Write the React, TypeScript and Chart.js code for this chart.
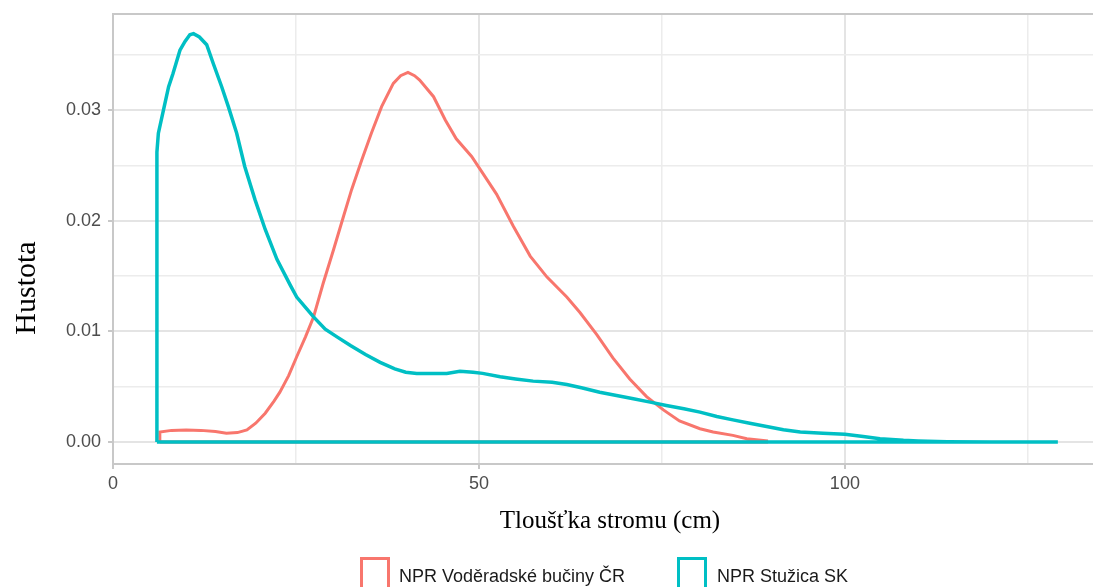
import React, { useEffect, useRef } from "react";
import { Chart, registerables } from "chart.js";

Chart.register(...registerables);

// ---- data ----
const seriesNames = ["NPR Voděradské bučiny ČR", "NPR Stužica SK"];
const seriesColors = ["#F8766D", "#00BFC4"];

const redX = [6.4, 6.4, 8, 10, 12, 14, 15.5, 17, 18.3, 19.5, 20.8, 22, 22.8, 24, 25.1, 26.3, 27.4, 28.7, 30.1, 31.5, 32.6, 34.0, 35.3, 36.7, 38.3, 39.3, 40.3, 41.2, 41.9, 43.8, 45.4, 46.9, 49.0, 50.6, 52.4, 54.7, 57.0, 59.3, 62.0, 63.8, 66.1, 68.3, 70.6, 72.9, 75.2, 77.4, 80.2, 82.0, 84.7, 86.6, 89.3, 89.3, 6.4];
const redY = [0, 0.0009, 0.00105, 0.00108, 0.00105, 0.00095, 0.0008, 0.00085, 0.0011, 0.0017, 0.0026, 0.0037, 0.0045, 0.006, 0.0077, 0.0095, 0.0113, 0.0143, 0.0173, 0.0204, 0.0228, 0.0255, 0.0279, 0.0303, 0.0324, 0.0331, 0.0334, 0.0331, 0.0327, 0.0312, 0.0291, 0.0274, 0.0258, 0.0242, 0.0224, 0.0195, 0.0168, 0.0149, 0.0131, 0.0117, 0.0097, 0.0076, 0.0057, 0.0041, 0.0029, 0.0019, 0.0012, 0.0009, 0.0006, 0.0003, 0.0001, 0, 0];

const tealX = [6, 6, 6.2, 6.9, 7.6, 8.2, 9.15, 9.84, 10.5, 11.0, 11.8, 12.8, 13.7, 14.85, 15.76, 16.9, 18.0, 19.4, 20.8, 22.4, 24.2, 25.1, 26.5, 27.4, 29.0, 30.6, 32.5, 34.5, 36.5, 38.5, 40.0, 41.5, 43.5, 45.6, 47.4, 49.2, 50.5, 52.9, 55, 57.4, 60, 62.0, 64, 66.5, 68.8, 71.1, 73.4, 75.6, 78, 80.2, 82.5, 84.7, 87, 89.3, 91.6, 93.9, 97, 100, 102.5, 104.8, 108, 110, 114, 120, 129.1, 6];
const tealY = [0, 0.0262, 0.0279, 0.03, 0.0321, 0.0333, 0.0354, 0.0362, 0.0368, 0.0369, 0.0366, 0.0359, 0.0342, 0.0321, 0.0303, 0.0279, 0.0249, 0.0219, 0.0192, 0.0165, 0.0142, 0.0131, 0.012, 0.0113, 0.0102, 0.0095, 0.0087, 0.0079, 0.0072, 0.0066, 0.0063, 0.0062, 0.0062, 0.0062, 0.0064, 0.0063, 0.0062, 0.0059, 0.0057, 0.0055, 0.0054, 0.0052, 0.0049, 0.0045, 0.0042, 0.0039, 0.0036, 0.0033, 0.003, 0.0027, 0.0023, 0.002, 0.0017, 0.0014, 0.0011, 0.0009, 0.0008, 0.0007, 0.0005, 0.0003, 0.00015, 0.0001, 0.00003, 0.00001, 0, 0];

const xTicks = [0, 25, 50, 75, 100, 125];
const xMajor = [0, 50, 100];
const yTicks = [0, 0.005, 0.01, 0.015, 0.02, 0.025, 0.03, 0.035];
const yMajor = [0, 0.01, 0.02, 0.03];

const xTitle = "Tloušťka stromu (cm)";
const yTitle = "Hustota";

// ---- styling ----
const SANS = '"Liberation Sans", Arial, sans-serif';
const SERIF = '"Liberation Serif", "Times New Roman", serif';
const BORDER = "#c8c8c8";
const GRID_MAJOR = "#e4e4e4";
const GRID_MINOR = "#ececec";

const toPoints = (xs: number[], ys: number[]) => xs.map((x, i) => ({ x, y: ys[i] }));

const decorPlugin = {
  id: "decor",
  beforeDatasetsDraw(chart: any) {
    const { ctx, chartArea } = chart;
    ctx.save();
    ctx.strokeStyle = BORDER;
    ctx.lineWidth = 2;
    ctx.beginPath();
    ctx.moveTo(chartArea.left - 1, chartArea.top);
    ctx.lineTo(chartArea.right, chartArea.top);
    ctx.stroke();
    ctx.restore();
  },
  afterDraw(chart: any) {
    const { ctx } = chart;
    ctx.save();
    // x title
    ctx.fillStyle = "#000";
    ctx.font = `25px ${SERIF}`;
    ctx.textAlign = "center";
    ctx.textBaseline = "alphabetic";
    ctx.fillText(xTitle, 610, 528);
    // y title
    ctx.save();
    ctx.translate(35, 288);
    ctx.rotate(-Math.PI / 2);
    ctx.font = `30px ${SERIF}`;
    ctx.fillText(yTitle, 0, 0);
    ctx.restore();
    // legend
    const boxX = [361.5, 678.5];
    const textX = [399, 717];
    ctx.font = `18px ${SANS}`;
    ctx.textAlign = "left";
    seriesNames.forEach((name, i) => {
      ctx.strokeStyle = seriesColors[i];
      ctx.lineWidth = 3;
      ctx.strokeRect(boxX[i], 558.5, 27, 40);
      ctx.fillStyle = "#1a1a1a";
      ctx.fillText(name, textX[i], 582);
    });
    ctx.restore();
  },
};

export default function App() {
  const ref = useRef<HTMLCanvasElement | null>(null);
  useEffect(() => {
    if (!ref.current) return;
    const chart = new Chart(ref.current, {
      type: "scatter",
      data: {
        datasets: [
          {
            label: seriesNames[0],
            data: toPoints(redX, redY),
            showLine: true,
            borderColor: seriesColors[0],
            borderWidth: 3,
            pointRadius: 0,
            tension: 0,
            fill: false,
            order: 1,
          },
          {
            label: seriesNames[1],
            data: toPoints(tealX, tealY),
            showLine: true,
            borderColor: seriesColors[1],
            borderWidth: 3.5,
            pointRadius: 0,
            tension: 0,
            fill: false,
            order: 0,
          },
        ],
      },
      options: {
        responsive: false,
        animation: false,
        layout: { padding: { top: 14, left: 0, right: 0, bottom: 0 } },
        plugins: { legend: { display: false }, tooltip: { enabled: false } },
        scales: {
          x: {
            type: "linear",
            min: 0,
            max: 133.9,
            afterFit: (s: any) => {
              s.height = 123;
              s.paddingLeft = 0;
              s.paddingRight = 0;
            },
            afterBuildTicks: (s: any) => {
              s.ticks = xTicks.map((v) => ({ value: v }));
            },
            ticks: {
              callback: (v: any) => (xMajor.includes(v) ? String(v) : ""),
              font: { family: SANS, size: 18 },
              color: "#4d4d4d",
              padding: 4,
              maxRotation: 0,
              autoSkip: false,
            },
            grid: {
              color: (c: any) => (xMajor.includes(c.tick?.value) ? GRID_MAJOR : GRID_MINOR),
              lineWidth: (c: any) => (xMajor.includes(c.tick?.value) ? 2 : 1.5),
              tickColor: (c: any) => (xMajor.includes(c.tick?.value) ? BORDER : "rgba(0,0,0,0)"),
              tickWidth: 2,
              tickLength: 5,
              drawTicks: true,
            },
            border: { display: true, color: BORDER, width: 2 },
          },
          y: {
            type: "linear",
            min: -0.001988,
            max: 0.038673,
            afterFit: (s: any) => {
              s.width = 113;
              s.paddingTop = 0;
              s.paddingBottom = 0;
            },
            afterBuildTicks: (s: any) => {
              s.ticks = yTicks.map((v) => ({ value: v }));
            },
            ticks: {
              callback: (v: any) => (yMajor.includes(v) ? Number(v).toFixed(2) : ""),
              font: { family: SANS, size: 18 },
              color: "#4d4d4d",
              padding: 7,
              autoSkip: false,
            },
            grid: {
              color: (c: any) => (yMajor.includes(c.tick?.value) ? GRID_MAJOR : GRID_MINOR),
              lineWidth: (c: any) => (yMajor.includes(c.tick?.value) ? 2 : 1.5),
              tickColor: (c: any) => (yMajor.includes(c.tick?.value) ? BORDER : "rgba(0,0,0,0)"),
              tickWidth: 2,
              tickLength: 5,
              drawTicks: true,
            },
            border: { display: true, color: BORDER, width: 2 },
          },
        },
      },
      plugins: [decorPlugin],
    });
    return () => chart.destroy();
  }, []);
  return (
    <div style={{ position: "fixed", left: 0, top: 0, width: 1093, height: 587, background: "#fff" }}>
      <canvas ref={ref} width={1093} height={587} style={{ display: "block" }} />
    </div>
  );
}
